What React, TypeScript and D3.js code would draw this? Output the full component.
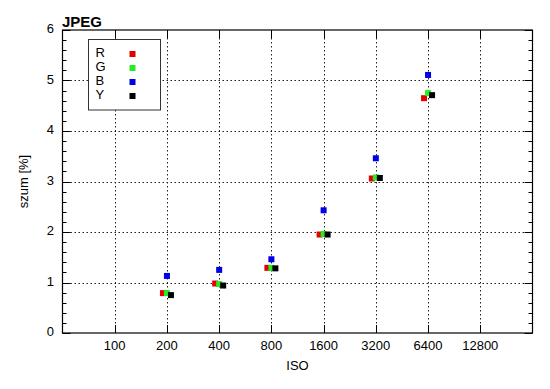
import React from "react";
import * as d3 from "d3";

const isoValues = [200, 400, 800, 1600, 3200, 6400];
const rValues = [0.79, 0.98, 1.29, 1.95, 3.06, 4.65];
const gValues = [0.79, 0.97, 1.29, 1.96, 3.08, 4.75];
const bValues = [1.13, 1.25, 1.46, 2.43, 3.46, 5.11];
const yValues = [0.75, 0.94, 1.28, 1.95, 3.07, 4.71];

const xTicks = [100, 200, 400, 800, 1600, 3200, 6400, 12800];
const yTicks = [0, 1, 2, 3, 4, 5, 6];
const seriesNames = ["R", "G", "B", "Y"];

const font = "'Liberation Sans', Arial, sans-serif";

const App = () => {
  const width = 550;
  const height = 389;
  const m = {left: 62.5, right: 532.5, top: 30, bottom: 333};

  const x = d3.scaleLog().base(2).domain([50, 25600]).range([m.left, m.right]);
  const y = d3.scaleLinear().domain([0, 6]).range([m.bottom, m.top]);

  const series = [
    {name: "R", values: rValues, color: "#e40000", dx: -4},
    {name: "G", values: gValues, color: "#22ee22", dx: 0},
    {name: "B", values: bValues, color: "#0000e6", dx: 0},
    {name: "Y", values: yValues, color: "#000000", dx: 4},
  ];

  const minorTicks = d3.range(0, 6.001, 0.2).filter(v => Math.abs(v - Math.round(v)) > 0.01);
  const size = 6;

  return (
    <svg width={width} height={height} style={{position: "absolute", left: 0, top: 0, background: "#fff"}}>
      {/* grid */}
      <g stroke="#222" strokeDasharray="1.5,2.5" strokeWidth={1}>
        {xTicks.map(t => (
          <line key={"gx" + t} x1={Math.round(x(t)) + 0.5} x2={Math.round(x(t)) + 0.5} y1={m.top} y2={m.bottom} />
        ))}
        {yTicks.slice(1, -1).map(t => (
          <line key={"gy" + t} x1={m.left} x2={m.right} y1={Math.round(y(t)) + 0.5} y2={Math.round(y(t)) + 0.5} />
        ))}
      </g>

      {/* ticks */}
      <g stroke="#000" strokeWidth={1}>
        {xTicks.map(t => {
          const px = Math.round(x(t)) + 0.5;
          return (
            <g key={"tx" + t}>
              <line x1={px} x2={px} y1={m.bottom} y2={m.bottom - 8} />
              <line x1={px} x2={px} y1={m.top} y2={m.top + 8} />
            </g>
          );
        })}
        {yTicks.map(t => {
          const py = Math.round(y(t)) + 0.5;
          return (
            <g key={"ty" + t}>
              <line x1={m.left} x2={m.left + 8} y1={py} y2={py} />
              <line x1={m.right} x2={m.right - 8} y1={py} y2={py} />
            </g>
          );
        })}
        {minorTicks.map(t => {
          const py = Math.round(y(t)) + 0.5;
          return (
            <g key={"mt" + t}>
              <line x1={m.left} x2={m.left + 4} y1={py} y2={py} />
              <line x1={m.right} x2={m.right - 4} y1={py} y2={py} />
            </g>
          );
        })}
      </g>

      {/* frame */}
      <rect x={m.left} y={m.top} width={m.right - m.left} height={m.bottom - m.top} fill="none" stroke="#000" strokeWidth={1.2} />

      {/* tick labels */}
      <g fontFamily={font} fontSize={13} fill="#000">
        {xTicks.map(t => (
          <text key={"lx" + t} x={x(t)} y={347} textAnchor="middle" dominantBaseline="middle">{t}</text>
        ))}
        {yTicks.map(t => (
          <text key={"ly" + t} x={54} y={y(t)} textAnchor="end" dominantBaseline="middle">{t}</text>
        ))}
        <text x={(m.left + m.right) / 2} y={367} textAnchor="middle" dominantBaseline="middle">ISO</text>
        <text transform={`translate(25,${(m.top + m.bottom) / 2}) rotate(-90)`} textAnchor="middle" dominantBaseline="middle">szum [%]</text>
      </g>

      <text x={62} y={26.5} fontFamily={font} fontSize={15} fontWeight="bold">JPEG</text>

      {/* points */}
      {series.map(s => (
        <g key={s.name} fill={s.color}>
          {s.values.map((v, i) => (
            <rect key={i} x={x(isoValues[i]) + s.dx - size / 2} y={y(v) - size / 2} width={size} height={size} />
          ))}
        </g>
      ))}

      {/* legend */}
      <g>
        <rect x={88.5} y={39.5} width={72} height={70.5} fill="#fff" stroke="#333" strokeWidth={1} />
        {series.map((s, i) => (
          <g key={"lg" + s.name}>
            <text x={95.5} y={54 + i * 14} fontFamily={font} fontSize={13} dominantBaseline="middle">{seriesNames[i]}</text>
            <rect x={132.5 - size / 2} y={54 + i * 14 - size / 2} width={size} height={size} fill={s.color} />
          </g>
        ))}
      </g>
    </svg>
  );
};

export default App;
